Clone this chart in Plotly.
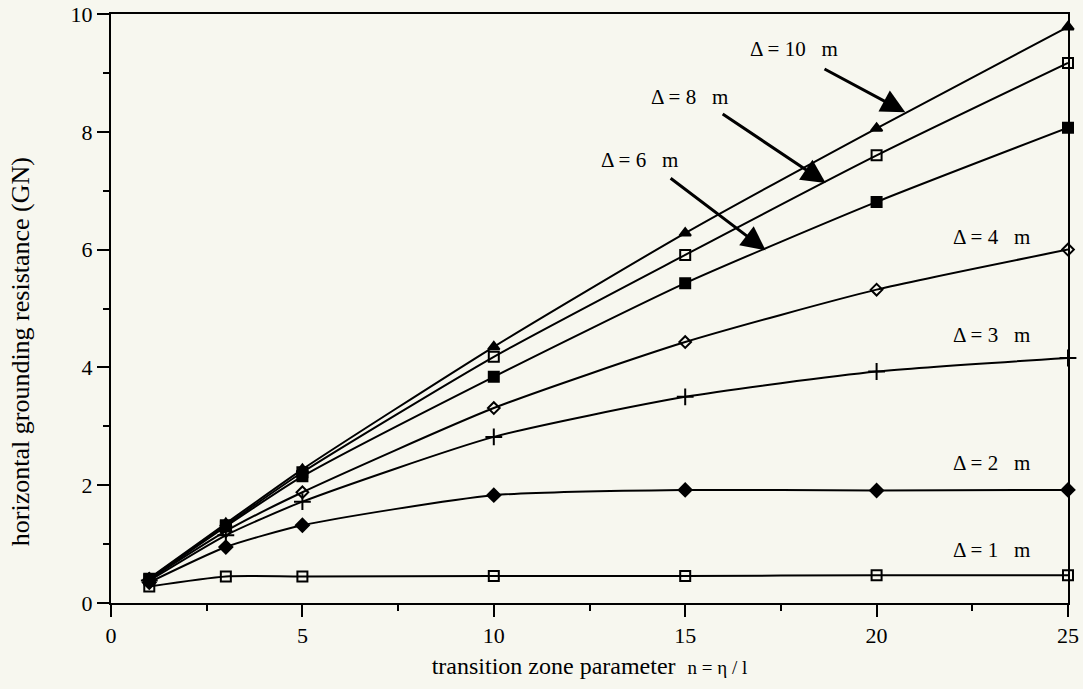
import plotly.graph_objects as go

# ---- data ----
n_values = [1, 3, 5, 10, 15, 20, 25]
delta_1 = [0.28, 0.45, 0.45, 0.46, 0.46, 0.47, 0.47]
delta_2 = [0.35, 0.95, 1.32, 1.83, 1.92, 1.91, 1.92]
delta_3 = [0.38, 1.15, 1.72, 2.82, 3.50, 3.93, 4.16]
delta_4 = [0.40, 1.22, 1.88, 3.31, 4.43, 5.32, 6.00]
delta_6 = [0.40, 1.30, 2.15, 3.84, 5.43, 6.81, 8.07]
delta_8 = [0.41, 1.32, 2.22, 4.18, 5.91, 7.60, 9.17]
delta_10 = [0.42, 1.35, 2.27, 4.35, 6.28, 8.06, 9.78]

series_names = ["Δ = 1 m", "Δ = 2 m", "Δ = 3 m", "Δ = 4 m", "Δ = 6 m", "Δ = 8 m", "Δ = 10 m"]
series_values = [delta_1, delta_2, delta_3, delta_4, delta_6, delta_8, delta_10]
series_symbols = ["square-open", "diamond", "cross-thin-open", "diamond-open",
                  "square", "square-open", "triangle-up"]
series_sizes = [10, 10, 12, 9, 10, 10, 10]

x_ticks = [0, 5, 10, 15, 20, 25]
y_ticks = [0, 2, 4, 6, 8, 10]

# label texts on the right side (x, y, text)
right_labels = [
    (23.0, 6.21, "Δ = 4&nbsp;&nbsp;&nbsp;m"),
    (23.0, 4.55, "Δ = 3&nbsp;&nbsp;&nbsp;m"),
    (23.0, 2.38, "Δ = 2&nbsp;&nbsp;&nbsp;m"),
    (23.0, 0.90, "Δ = 1&nbsp;&nbsp;&nbsp;m"),
]
# arrow labels: text position, arrow tail, arrow tip
arrow_labels = [
    ((17.85, 9.40), (18.6, 9.08), (20.75, 8.33), "Δ = 10&nbsp;&nbsp;&nbsp;m"),
    ((15.1, 8.59), (15.94, 8.32), (18.67, 7.13), "Δ = 8&nbsp;&nbsp;&nbsp;m"),
    ((13.8, 7.52), (14.58, 7.23), (17.1, 5.99), "Δ = 6&nbsp;&nbsp;&nbsp;m"),
]

FONT = "Liberation Serif, Times New Roman, serif"
BG = "#f7f7ef"

fig = go.Figure()
for name, vals, sym, sz in zip(series_names, series_values, series_symbols, series_sizes):
    fig.add_trace(go.Scatter(
        x=n_values, y=vals, name=name, mode="lines+markers",
        line=dict(color="black", width=2, shape="spline", smoothing=0.6),
        marker=dict(symbol=sym, size=sz, color="black",
                    line=dict(color="black", width=2)),
        cliponaxis=False,
        showlegend=False,
    ))

annotations = []
for x, y, t in right_labels:
    annotations.append(dict(x=x, y=y, xref="x", yref="y", text=t, showarrow=False,
                            font=dict(family=FONT, size=21, color="black")))
for (tx, ty), (ax, ay), (hx, hy), t in arrow_labels:
    annotations.append(dict(x=tx, y=ty, xref="x", yref="y", text=t, showarrow=False,
                            font=dict(family=FONT, size=21, color="black")))
    annotations.append(dict(x=hx, y=hy, xref="x", yref="y", ax=ax, ay=ay,
                            axref="x", ayref="y", text="", showarrow=True,
                            arrowhead=2, arrowsize=1.6, arrowwidth=3,
                            arrowcolor="black", standoff=0, startstandoff=0))

# y-axis title (placed as in the reference, slightly below the plot centre)
annotations.append(dict(x=-0.095, y=0.426, xref="paper", yref="paper",
                        text="horizontal grounding resistance (GN)", textangle=-90,
                        showarrow=False, xanchor="center", yanchor="middle",
                        font=dict(family=FONT, size=26, color="black")))

fig.update_layout(
    template="none",
    width=1083, height=689,
    margin=dict(l=111, r=15, t=14, b=86, autoexpand=False),
    paper_bgcolor=BG, plot_bgcolor=BG,
    font=dict(family=FONT, size=20, color="black"),
    annotations=annotations,
    xaxis=dict(
        range=[0, 25], tickvals=x_ticks, ticktext=[str(v) for v in x_ticks],
        showgrid=False, zeroline=False, automargin=False,
        showline=True, linecolor="black", linewidth=2, mirror=True,
        ticks="outside", ticklen=12, tickwidth=2, tickcolor="black",
        minor=dict(dtick=2.5, tick0=0, ticks="outside", ticklen=6, tickwidth=2,
                   tickcolor="black", showgrid=False),
        tickfont=dict(family=FONT, size=22),
        title=dict(text="transition zone parameter&nbsp;&nbsp;<span style='font-size:19px'>n = η / l</span>",
                   font=dict(family=FONT, size=24), standoff=10),
    ),
    yaxis=dict(
        range=[0, 10], tickvals=y_ticks, ticktext=[str(v) for v in y_ticks],
        showgrid=False, zeroline=False, automargin=False,
        showline=True, linecolor="black", linewidth=2, mirror=True,
        ticks="outside", ticklen=12, tickwidth=2, tickcolor="black",
        minor=dict(dtick=1, tick0=0, ticks="outside", ticklen=6, tickwidth=2,
                   tickcolor="black", showgrid=False),
        tickfont=dict(family=FONT, size=22),
    ),
)

fig.write_html("out.html", config={"displayModeBar": False},
               post_script="document.body.style.margin='0';document.body.style.background='%s';" % BG)
